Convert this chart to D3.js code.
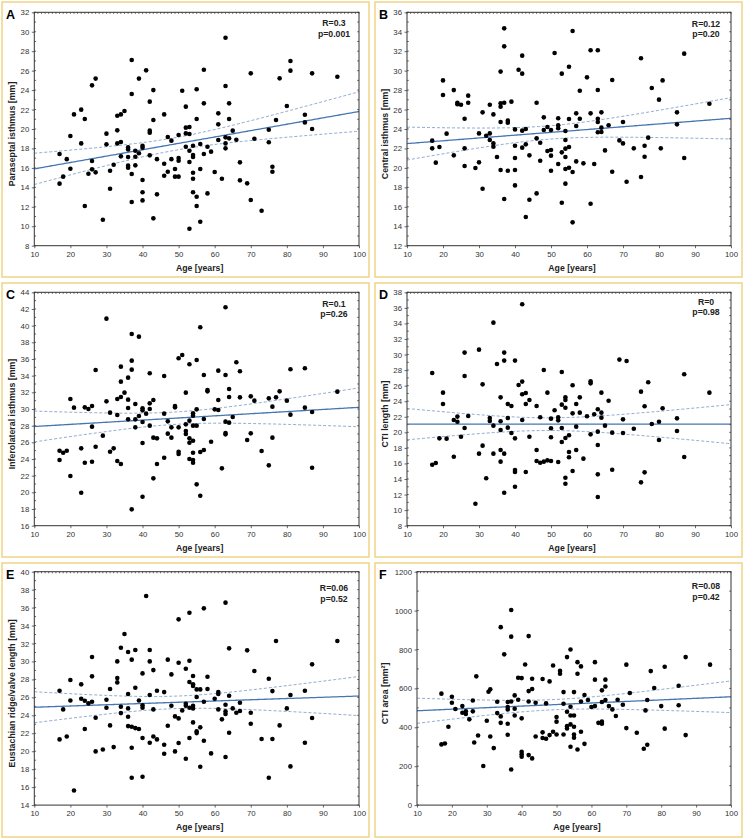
<!DOCTYPE html>
<html><head><meta charset="utf-8">
<script src="https://cdn.jsdelivr.net/npm/d3@7"></script>
<style>
body{margin:0;background:#fff}
svg{display:block}
text{font-family:"Liberation Sans",Arial,sans-serif}
</style>
</head><body>
<svg id="c" width="744" height="840"></svg>
<script>
// ---------- data (age [years], measurement) ----------
const pointsA = [[17,17.43],[17,14.38],[18,15.1],[19,16.9],[20,19.28],[20,15.92],[21,21.5],[23,21.99],[23,18.52],[24,21.03],[24,12.08],[25,15.4],[26,24.49],[26,16.71],[26,15.85],[27,25.18],[27,15.54],[29,10.67],[30,19.52],[30,18.42],[31,15.71],[31,13.86],[32,16.33],[33,21.37],[33,19.86],[33,18.52],[34,21.5],[34,18.66],[34,17.19],[35,21.85],[36,18.11],[36,17.9],[36,17.12],[36,16.23],[36,16.02],[37,27.09],[37,23.6],[37,15.37],[37,12.49],[38,17.77],[38,17.15],[38,16.26],[39,25.18],[39,17.5],[40,18.28],[40,18.08],[40,14.75],[40,13.49],[40,12.66],[41,26.03],[42,22.81],[42,19.83],[42,19.62],[42,17.29],[43,24.0],[43,20.92],[43,10.81],[44,16.9],[44,13.28],[46,21.5],[46,16.43],[46,15.2],[47,19.18],[47,15.61],[48,18.8],[48,16.9],[49,15.88],[49,15.1],[50,19.38],[50,17.02],[50,16.74],[50,15.1],[51,23.94],[52,22.3],[52,20.14],[52,19.55],[52,18.18],[53,20.2],[53,19.48],[53,17.77],[53,16.6],[53,9.75],[54,18.28],[54,17.32],[54,17.12],[54,15.5],[54,14.89],[54,13.49],[55,24.08],[55,21.03],[55,13.04],[55,12.08],[56,18.46],[56,15.88],[56,10.47],[57,26.1],[57,22.64],[57,17.43],[58,18.18],[58,13.38],[59,17.67],[60,15.58],[61,21.61],[61,20.48],[61,18.87],[62,14.89],[63,29.39],[63,24.42],[63,19.14],[63,18.52],[63,18.01],[64,22.64],[64,21.03],[64,19.04],[65,19.83],[66,18.9],[67,16.57],[67,14.72],[69,14.41],[70,25.72],[70,12.7],[71,19.0],[73,11.6],[75,19.93],[75,18.63],[76,16.12],[76,15.61],[77,20.92],[78,25.21],[80,22.36],[81,26.99],[81,26.0],[85,21.47],[85,20.68],[87,25.72],[87,20.0],[94,25.38]];

const pointsB = [[17,22.8],[17,22.01],[18,20.54],[19,22.15],[20,29.0],[20,27.5],[21,23.52],[23,28.0],[23,21.29],[24,26.7],[24,26.54],[25,26.5],[26,25.06],[26,22.01],[26,20.19],[27,27.43],[27,26.7],[29,19.99],[30,23.55],[30,20.57],[31,25.71],[31,17.86],[32,23.31],[33,26.5],[33,23.55],[33,22.87],[34,25.5],[34,22.52],[34,22.18],[35,21.12],[36,29.9],[36,26.64],[36,26.3],[36,24.72],[36,19.78],[37,34.35],[37,32.5],[37,26.7],[37,16.8],[38,24.86],[38,24.65],[38,19.71],[39,26.81],[40,23.96],[40,22.28],[40,21.02],[40,19.78],[40,18.2],[41,30.1],[42,31.54],[42,29.69],[42,23.83],[42,22.08],[43,24.0],[43,22.42],[43,14.95],[44,21.29],[44,16.73],[46,26.7],[46,23.04],[46,17.38],[47,22.59],[47,20.74],[48,25.2],[48,23.9],[49,24.2],[49,21.74],[50,23.9],[50,21.84],[50,21.26],[50,19.71],[51,31.81],[52,25.1],[52,24.38],[52,24.07],[52,20.4],[53,29.69],[53,21.6],[53,16.42],[54,23.79],[54,22.87],[54,21.98],[54,21.12],[54,19.88],[54,18.38],[55,30.4],[55,25.03],[55,22.15],[55,20.02],[56,34.08],[56,19.58],[56,14.4],[57,25.61],[57,24.31],[57,20.67],[58,27.94],[58,25.06],[59,20.47],[60,29.31],[61,32.09],[61,25.61],[61,16.32],[62,20.4],[63,32.09],[63,28.01],[63,25.06],[63,24.72],[63,23.66],[64,25.71],[64,24.14],[64,23.69],[65,21.8],[66,24.38],[67,29.04],[67,19.61],[69,22.83],[70,24.72],[70,22.52],[71,18.58],[73,22.01],[75,31.27],[75,19.06],[76,22.28],[76,21.15],[77,23.11],[78,28.22],[80,27.02],[80.5,22.01],[81,29.0],[85,25.71],[85,24.48],[87,31.75],[87,21.02],[94,26.6]];

const pointsC = [[17,25.0],[17,23.88],[18,24.76],[19,25.0],[20,31.2],[20,21.96],[21,30.16],[23,25.28],[23,19.96],[24,30.2],[24,23.56],[25,30.0],[26,30.36],[26,27.88],[26,23.68],[27,34.68],[27,25.48],[29,26.8],[30,40.84],[30,30.92],[31,29.56],[31,24.88],[32,25.28],[33,31.2],[33,29.28],[33,23.76],[34,35.08],[34,33.28],[34,31.44],[34,23.4],[35,31.96],[36,33.76],[36,31.12],[36,30.12],[36,28.76],[37,39.0],[37,35.8],[37,34.72],[37,17.96],[38,30.6],[38,28.76],[38,27.8],[39,38.68],[39,29.16],[40,30.08],[40,29.84],[40,28.44],[40,25.92],[40,19.48],[41,29.44],[42,34.28],[42,30.68],[42,30.0],[42,28.0],[43,31.08],[43,26.56],[43,21.68],[44,26.48],[44,23.4],[46,33.96],[46,29.44],[46,24.16],[47,28.52],[47,27.04],[48,27.8],[48,26.56],[49,30.36],[49,30.2],[50,36.08],[50,27.8],[50,24.88],[50,24.6],[51,36.48],[52,31.96],[52,28.16],[52,27.36],[52,27.0],[53,35.36],[53,28.6],[53,26.48],[53,25.96],[53,24.0],[54,29.48],[54,29.2],[54,28.0],[54,26.2],[54,24.76],[54,23.88],[54,23.56],[55,35.88],[55,29.96],[55,28.0],[55,20.96],[56,39.8],[56,24.84],[56,19.6],[57,34.08],[57,28.8],[57,25.08],[58,32.28],[58,32.12],[59,26.08],[60,29.96],[61,34.6],[61,31.08],[61,29.88],[62,22.88],[63,42.2],[63,34.08],[63,28.48],[63,27.12],[63,26.96],[64,32.4],[64,31.44],[64,28.36],[65,29.04],[66,35.6],[67,34.52],[67,31.4],[69,26.28],[70,31.52],[70,27.08],[71,31.0],[73,24.96],[75,31.28],[75,23.24],[76,30.28],[76,26.56],[77,31.4],[78,32.12],[80,31.0],[81,34.76],[81,29.32],[85,34.88],[85,30.16],[87,29.64],[87,22.96],[94,32.08]];

const pointsD = [[17,27.63],[17,15.84],[18,16.06],[19,19.23],[20,25.1],[20,23.64],[21,19.19],[23,21.59],[23,16.87],[24,22.02],[24,21.37],[25,19.44],[26,30.25],[26,27.24],[26,20.56],[27,22.1],[29,10.83],[30,30.63],[30,17.26],[31,26.17],[31,18.29],[32,14.09],[33,21.84],[33,21.46],[34,34.1],[34,20.86],[34,17.26],[35,28.79],[36,24.5],[36,21.42],[36,20.3],[36,17.73],[36,16.23],[37,30.25],[37,29.22],[37,17.26],[37,12.24],[38,23.64],[38,21.84],[38,20.6],[39,23.39],[39,19.92],[40,29.22],[40,19.23],[40,15.16],[40,14.9],[40,13.01],[41,26.09],[42,36.46],[42,26.52],[42,24.89],[42,21.59],[43,25.06],[43,23.64],[43,14.9],[44,24.16],[44,19.44],[46,23.39],[46,17.73],[46,16.32],[47,21.93],[47,16.1],[48,28.02],[48,16.23],[49,25.1],[49,16.4],[50,21.76],[50,20.52],[50,19.36],[50,16.32],[51,22.83],[52,21.93],[52,21.54],[52,16.19],[53,27.76],[53,23.56],[53,20.56],[53,18.76],[54,24.5],[54,24.16],[54,23.17],[54,19.27],[54,14.17],[54,13.4],[55,19.62],[55,17.47],[55,16.79],[56,26.05],[56,22.44],[56,15.03],[57,23.64],[57,20.73],[57,17.73],[58,24.5],[58,22.53],[59,16.62],[60,22.06],[61,26.56],[61,26.3],[61,19.74],[62,22.32],[63,22.96],[63,20.09],[63,18.37],[63,14.6],[63,11.69],[64,25.1],[64,22.53],[64,21.89],[65,20.86],[66,24.07],[67,19.96],[67,15.2],[69,29.35],[70,21.67],[70,19.92],[71,29.17],[73,20.47],[75,25.23],[75,13.57],[76,23.35],[76,14.86],[77,26.43],[78,21.07],[80,21.37],[80,19.02],[81,23.09],[85,21.8],[85,20.17],[87,27.46],[87,16.83],[94,25.1]];

const pointsE = [[17,26.74],[17,21.32],[18,24.66],[19,21.65],[20,27.93],[20,25.66],[21,15.63],[23,27.45],[23,25.85],[24,25.63],[24,22.47],[25,25.33],[26,30.49],[26,28.34],[26,25.52],[27,23.73],[27,19.98],[29,20.2],[30,25.74],[30,24.85],[31,26.93],[31,22.88],[32,20.46],[33,30.01],[33,28.15],[33,27.67],[34,31.53],[34,24.96],[34,24.25],[35,33.06],[36,31.05],[36,26.37],[36,24.77],[36,23.84],[36,22.8],[37,30.2],[37,22.73],[37,20.39],[37,17.05],[38,31.27],[38,27.07],[38,22.58],[39,25.66],[39,22.47],[40,28.67],[40,25.11],[40,24.85],[40,21.47],[40,17.16],[41,37.29],[42,31.27],[42,30.01],[42,26.26],[42,20.95],[43,29.04],[43,24.66],[43,21.65],[44,26.74],[44,21.32],[46,26.59],[46,20.72],[46,19.72],[47,30.2],[47,22.84],[48,28.56],[48,25.07],[49,23.88],[49,19.98],[50,34.69],[50,29.86],[50,23.66],[50,20.91],[51,24.55],[52,29.19],[52,25.29],[52,25.07],[52,19.16],[53,35.43],[53,30.08],[53,27.71],[53,24.85],[53,21.47],[54,28.38],[54,27.45],[54,27.26],[54,25.07],[54,24.77],[54,23.21],[55,26.89],[55,26.04],[55,22.21],[55,22.02],[56,26.89],[56,22.66],[56,18.27],[57,35.92],[57,25.52],[57,21.17],[58,28.3],[58,26.93],[59,19.76],[60,25.85],[61,26.59],[61,26.37],[61,24.66],[62,23.55],[63,36.55],[63,25.18],[63,24.44],[63,24.14],[63,19.35],[64,31.46],[64,26.18],[64,22.06],[65,24.77],[66,24.29],[67,25.4],[67,24.48],[69,31.24],[70,24.29],[70,23.06],[71,28.93],[73,21.36],[75,28.08],[75,17.05],[76,26.7],[76,21.36],[77,32.28],[78,22.88],[80,24.77],[81,26.26],[81,18.31],[85,26.74],[85,20.95],[87,29.68],[87,23.7],[94,32.28]];

const pointsF = [[17,573],[17,312],[18,317],[19,403],[20,557],[20,526],[21,494],[23,509],[23,475],[24,482],[24,468],[25,441],[26,538],[26,482],[26.4,322],[27,662],[27.5,358],[29,201],[30,434],[30.5,583],[31,595],[31,353],[32,293],[33,531],[33,473],[34,915],[34,456],[34,423],[35,775],[36,530],[36,504],[36,492],[36,418],[36,362],[37,1003],[37,866],[37,533],[37,183],[38,564],[38,495],[38,461],[39,655],[39,542],[40,653],[40,446],[40,274],[40,262],[40,249],[41,723],[42,869],[42,586],[42,533],[42,257],[43,650],[43,597],[43,240],[44,526],[44,353],[46,648],[46,374],[46,345],[47,523],[47,341],[48,636],[48,360],[49,718],[49,377],[50,453],[50,429],[50,363],[51,690],[51,675],[52,581],[52,521],[52,363],[53,761],[53,480],[53,406],[53,394],[54,800],[54,506],[54,461],[54,415],[54,300],[55,581],[55,461],[55,403],[55,363],[55,346],[56,735],[56,675],[56,286],[57,713],[57,533],[57,377],[58,566],[58,315],[59,540],[60,504],[61,735],[61,645],[61,509],[62,423],[63,590],[63,530],[63,429],[63,418],[64,645],[64,610],[64,540],[65,509],[66,492],[67,458],[67.5,542],[69,516],[70,722],[70,396],[71,576],[73,372],[75,290],[75.5,487],[76,540],[76,310],[77,689],[78,602],[80,509],[81,711],[81,393],[85,614],[85,513],[87,761],[87,360],[94,722]];

// fitted regression line at age 10 and age 100
const fitAt10  = [15.9, 22.5, 27.9, 21.05, 24.9, 485];
const fitAt100 = [21.8, 25.1, 30.2, 21.05, 26.15, 557];

const letters = ["A","B","C","D","E","F"];
const yLabels = ["Paraseptal isthmus [mm]","Central isthmus [mm]","Inferolateral isthmus [mm]","CTI length [mm]","Eustachian ridge/valve length [mm]","CTI area [mm\u00B2]"];
const statR = ["R=0.3","R=0.12","R=0.1","R=0","R=0.06","R=0.08"];
const statP = ["p=0.001","p=0.20","p=0.26","p=0.98","p=0.52","p=0.42"];
const yDomains = [[8,32],[12,36],[16,44],[8,38],[14,40],[0,1200]];
const yTickSteps = [2,2,2,2,2,200];
const xTickLabels = [10,20,30,40,50,60,70,80,90,100];
const allPoints = [pointsA,pointsB,pointsC,pointsD,pointsE,pointsF];

// ---------- layout ----------
const colBox = [2, 375], boxW = 367;
const rowBox = [[2,277],[283,557],[563,837]];
const plotTop = [12.3, 292.3, 571.7], plotH = 233.4;
const plotLeft = [[34.3,407],[34.3,407],[34.3,417]], plotRight = [359,731];
const statDy = [[14,24.7],[14.7,25],[15,25],[12.7,23],[19.7,30],[17.3,28.7]];

const svg = d3.select("#c");
const FONT = '"Liberation Sans",Arial,sans-serif';

// confidence band half-width (95% CI of the mean) from the plotted points
function ciFrom(pts, line){
  const n = pts.length, mx = d3.mean(pts,d=>d[0]);
  let sxx=0, sse=0;
  pts.forEach(([x,y])=>{sxx+=(x-mx)*(x-mx); const r=y-line(x); sse+=r*r;});
  const s = Math.sqrt(sse/(n-2)), t = 1.978;
  return x=>t*s*Math.sqrt(1/n+(x-mx)*(x-mx)/sxx);
}

allPoints.forEach((pts,i)=>{
  const row = Math.floor(i/2), col = i%2;
  svg.append("rect").attr("x",colBox[col]).attr("y",rowBox[row][0])
     .attr("width",boxW).attr("height",rowBox[row][1]-rowBox[row][0])
     .attr("fill","none").attr("stroke","#f1d68e").attr("stroke-width",1.6);

  const L = plotLeft[row][col], R = plotRight[col], T = plotTop[row], B = T+plotH;
  const x = d3.scaleLinear().domain([10,100]).range([L,R]);
  const y = d3.scaleLinear().domain(yDomains[i]).range([B,T]);
  const g = svg.append("g");

  const yStep = yTickSteps[i];
  const yMinor = d3.range(yDomains[i][0], yDomains[i][1]+1e-6, yStep/2);
  const xMinor = d3.range(10, 100.01, 1);
  g.selectAll(null).data(xMinor).join("line")
    .attr("x1",d=>x(d)).attr("x2",d=>x(d)).attr("y1",T).attr("y2",T+1.6)
    .attr("stroke","#444").attr("stroke-width",0.8);
  g.selectAll(null).data(yMinor).join("line")
    .attr("x1",R).attr("x2",R-1.8).attr("y1",d=>y(d)).attr("y2",d=>y(d))
    .attr("stroke","#444").attr("stroke-width",0.8);
  g.selectAll(null).data(yMinor).join("line")
    .attr("x1",L).attr("x2",L+1.8).attr("y1",d=>y(d)).attr("y2",d=>y(d))
    .attr("stroke","#444").attr("stroke-width",0.8);

  const yTicks = d3.range(yDomains[i][0], yDomains[i][1]+1e-6, yStep);
  const ax = g.append("g").attr("transform",`translate(0,${B})`)
    .call(d3.axisBottom(x).tickValues(xTickLabels).tickSize(2.5).tickPadding(3).tickFormat(d3.format("d")));
  const ay = g.append("g").attr("transform",`translate(${L},0)`)
    .call(d3.axisLeft(y).tickValues(yTicks).tickSize(2.5).tickPadding(2.5).tickFormat(d3.format("d")));
  [ax,ay].forEach(a=>{
    a.select(".domain").remove();
    a.selectAll("line").attr("stroke","#444").attr("stroke-width",0.8);
    a.selectAll("text").attr("font-size","7.8px").attr("fill","#333").attr("font-family",FONT);
  });

  const slope = (fitAt100[i]-fitAt10[i])/90;
  const line = v=>fitAt10[i]+slope*(v-10);
  const ci = ciFrom(pts, line);
  const xs = d3.range(10, 100.01, 0.5);
  const ln = d3.line().x(d=>x(d[0])).y(d=>y(d[1]));
  g.append("path").attr("d",ln(xs.map(v=>[v,line(v)+ci(v)])))
    .attr("fill","none").attr("stroke","#7f9fc9").attr("stroke-width",0.9).attr("stroke-dasharray","3,2");
  g.append("path").attr("d",ln(xs.map(v=>[v,line(v)-ci(v)])))
    .attr("fill","none").attr("stroke","#7f9fc9").attr("stroke-width",0.9).attr("stroke-dasharray","3,2");
  g.append("path").attr("d",ln(xs.map(v=>[v,line(v)])))
    .attr("fill","none").attr("stroke","#4676b2").attr("stroke-width",1.3);

  g.selectAll(null).data(pts).join("circle")
    .attr("cx",d=>x(d[0])).attr("cy",d=>y(d[1])).attr("r",2.3).attr("fill","#000");

  g.append("rect").attr("x",L).attr("y",T).attr("width",R-L).attr("height",plotH)
    .attr("fill","none").attr("stroke","#333").attr("stroke-width",1);

  const cx = R-25;
  g.append("text").attr("x",cx).attr("y",T+statDy[i][0]).attr("text-anchor","middle")
    .attr("font-size","8.7px").attr("font-weight","bold").attr("fill","#222").text(statR[i]);
  g.append("text").attr("x",cx).attr("y",T+statDy[i][1]).attr("text-anchor","middle")
    .attr("font-size","8.7px").attr("font-weight","bold").attr("fill","#222").text(statP[i]);

  g.append("text").attr("x",(L+R)/2+3).attr("y",B+25).attr("text-anchor","middle")
    .attr("font-size","8.7px").attr("font-weight","bold").attr("fill","#222").text("Age [years]");
  const lx = colBox[col]+10, ly = (T+B)/2+5;
  g.append("text").attr("transform",`translate(${lx},${ly}) rotate(-90)`).attr("dy","0.35em")
    .attr("text-anchor","middle").attr("font-size","8.8px").attr("font-weight","bold").attr("fill","#222").text(yLabels[i]);

  g.append("text").attr("x",colBox[col]+4).attr("y",T+7).attr("font-size","12.5px")
    .attr("font-weight","bold").attr("fill","#000").text(letters[i]);
});
</script>
</body></html>
